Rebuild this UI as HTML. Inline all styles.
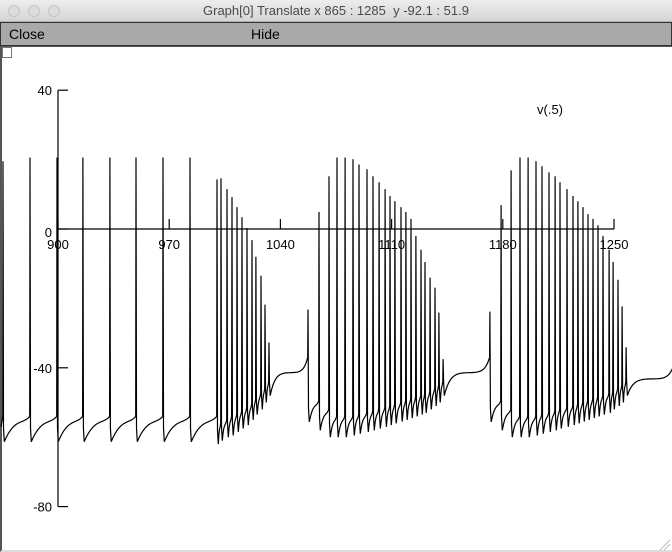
<!DOCTYPE html>
<html><head><meta charset="utf-8">
<style>
html,body{margin:0;padding:0;width:672px;height:552px;overflow:hidden;background:#fff;font-family:"Liberation Sans",sans-serif;}
#title{position:absolute;left:0;top:0;width:672px;height:22px;background:linear-gradient(#ededed,#d5d5d5);border-bottom:1px solid #b0b0b0;box-sizing:border-box;}
.light{position:absolute;top:5px;width:12px;height:12px;border-radius:50%;background:#dcdcdc;border:1px solid #c4c4c4;box-sizing:border-box;}
#ttext{position:absolute;left:0;width:672px;top:3px;text-align:center;font-size:13px;color:#4a4a4a;}
#menu{position:absolute;left:0;top:22px;width:672px;height:24px;background:#a9a9a9;border:1px solid #333;box-sizing:border-box;}
.mi{position:absolute;top:3px;font-size:14px;color:#000;}
#canvas{position:absolute;left:0;top:46px;width:672px;height:506px;background:#fff;border-left:2px solid #555;border-top:1px solid #555;border-bottom:2px solid #ddd;box-sizing:border-box;}
</style></head><body>
<div id="title">
  <div class="light" style="left:8px"></div>
  <div class="light" style="left:28px"></div>
  <div class="light" style="left:48px"></div>
  <div id="ttext">Graph[0] Translate x 865 : 1285&nbsp; y -92.1 : 51.9</div>
</div>
<div id="menu">
  <span class="mi" style="left:8px">Close</span>
  <span class="mi" style="left:250px">Hide</span>
</div>
<div id="canvas"></div>
<svg id="chart" width="672" height="552" style="position:absolute;left:0;top:0">
  <rect x="2.5" y="47.5" width="9" height="10" fill="#fff" stroke="#777"/>
  <g id="axes"></g>
  <path id="trace" fill="none" stroke="#000" stroke-width="1.2"/>
  <text x="537" y="114" font-size="13" font-family="Liberation Sans, sans-serif">v(.5)</text>
  <g stroke="#bbb"><line x1="660" y1="550" x2="670" y2="540"/><line x1="664" y1="550" x2="670" y2="544"/></g>
</svg>
<script>
const xTicks=[900,970,1040,1110,1180,1250];
const yTicks=[40,0,-40,-80];
const spikeT=[865.4,882.4,899.4,915.7,932.7,949.1,966.1,983.1,
1000.1,1002.6,1006.4,1009.5,1012.7,1015.8,1019.0,1022.1,1024.6,1027.8,1030.3,1032.8,
1057.4,1064.3,1070.6,1075.6,1080.7,1085.7,1089.5,1094.5,1098.3,1102.1,1105.9,1109.0,1112.1,1115.9,1119.0,1122.2,1125.3,1128.5,1131.0,1134.2,1137.3,1139.8,1142.4,
1171.9,1178.9,1185.2,1190.8,1195.9,1200.9,1204.7,1209.1,1212.9,1216.0,1220.4,1224.2,1227.3,1230.5,1233.6,1236.8,1239.9,1243.1,1246.9,1249.4,1252.5,1255.1,1257.6];
const spikePeak=[19.5,20.6,20.6,20.6,20.6,20.6,20.6,20.6,
14.3,14.6,11.5,9.2,6.3,3.4,0.3,-3.2,-8.0,-13.5,-21.8,-32.7,
-23.2,4.9,15.2,20.6,20.6,20.1,18.6,17.2,15.2,13.5,11.5,9.5,8.0,6.3,4.9,2.9,-2.0,-6.0,-9.5,-14.0,-16.9,-24.1,-37.5,
-23.8,6.9,16.9,20.6,20.6,19.5,18.1,16.3,15.2,13.5,11.5,9.5,8.0,6.3,4.3,2.9,1.1,-2.0,-6.0,-9.5,-14.6,-22.3,-34.1];
const spikeTrough=[-61.3,-61.3,-61.3,-61.3,-61.3,-61.3,-61.3,-61.3,
-62,-61,-60,-59.5,-58.5,-57.5,-56.5,-55,-53.5,-52,-50,-48,
-55.6,-58,-60,-60,-60,-59.5,-59,-58.5,-58,-57.5,-57,-56.5,-56,-55.5,-55,-54.5,-54,-53.5,-53,-52,-51,-50,-48,
-55.6,-58,-60,-60,-60,-59.5,-59,-58.5,-58,-57.5,-57,-56.5,-56,-55.5,-55,-54.5,-54,-53.5,-53,-52,-51,-50,-48];
const endT=1287, endV=-40;

const X0=58,XS=1.5886,Y0=229,YS=3.47;
function xp(t){return X0+(t-900)*XS;}
function yp(v){return Y0-v*YS;}
const NS="http://www.w3.org/2000/svg";
const ax=document.getElementById('axes');
function mk(tag,attrs,name){const e=document.createElementNS(NS,tag);for(const k in attrs)e.setAttribute(k,attrs[k]);


ax.appendChild(e);return e;}
mk('line',{x1:xp(900),y1:yp(0),x2:xp(1250),y2:yp(0),stroke:'#000','stroke-width':1.2},'x-axis');
mk('line',{x1:X0,y1:yp(40),x2:X0,y2:yp(-80),stroke:'#000','stroke-width':1.2},'y-axis');
xTicks.forEach(t=>{
  mk('line',{x1:xp(t),y1:yp(0),x2:xp(t),y2:yp(0)-10,stroke:'#000','stroke-width':1.2},'x-tick');
  const tx=mk('text',{x:xp(t),y:yp(0)+20,'font-size':13,'text-anchor':'middle','font-family':'Liberation Sans, sans-serif'},'x-tick-label');tx.textContent=t;
});
yTicks.forEach(v=>{
  mk('line',{x1:X0,y1:yp(v),x2:X0+10,y2:yp(v),stroke:'#000','stroke-width':1.2},'y-tick');
  const tx=mk('text',{x:X0-6,y:yp(v)+(v===0?8:5),'font-size':13,'text-anchor':'end','font-family':'Liberation Sans, sans-serif'},'y-tick-label');tx.textContent=v;
});

function preFor(i){
  if(i===0)return -54;
  const gap=spikeT[i]-spikeT[i-1];
  if(gap>20)return -37;
  if(gap>12)return -54;
  return Math.min(spikeTrough[i-1]+6,-40);
}
let d='';
function seg(t0,a,t1,b,long){
  const n=Math.max(4,Math.round((t1-t0)*2));
  for(let k=1;k<=n;k++){const s=k/n;
    const f=long?0.6*(1-Math.pow(1-s,8))+0.4*Math.pow(s,10):0.8*(1-Math.pow(1-s,3))+0.2*Math.pow(s,6);
    d+=' L'+xp(t0+(t1-t0)*s).toFixed(1)+' '+yp(a+(b-a)*f).toFixed(1);}
}
d='M'+xp(spikeT[0]-1.2).toFixed(1)+' '+yp(-57).toFixed(1);
d+=' L'+xp(spikeT[0]-0.2).toFixed(1)+' '+yp(preFor(0)).toFixed(1);
for(let i=0;i<spikeT.length;i++){
  const t=spikeT[i];
  d+=' L'+xp(t).toFixed(1)+' '+yp(spikePeak[i]).toFixed(1);
  d+=' L'+xp(t+0.3).toFixed(1)+' '+yp(spikeTrough[i]+4).toFixed(1);
  d+=' L'+xp(t+0.8).toFixed(1)+' '+yp(spikeTrough[i]).toFixed(1);
  if(i<spikeT.length-1){
    const gap=spikeT[i+1]-t;
    seg(t+0.8,spikeTrough[i],spikeT[i+1]-0.2,preFor(i+1),gap>20);
  } else {
    seg(t+0.8,spikeTrough[i],endT,endV,true);
  }
}
document.getElementById('trace').setAttribute('d',d);
</script>
</body></html>
